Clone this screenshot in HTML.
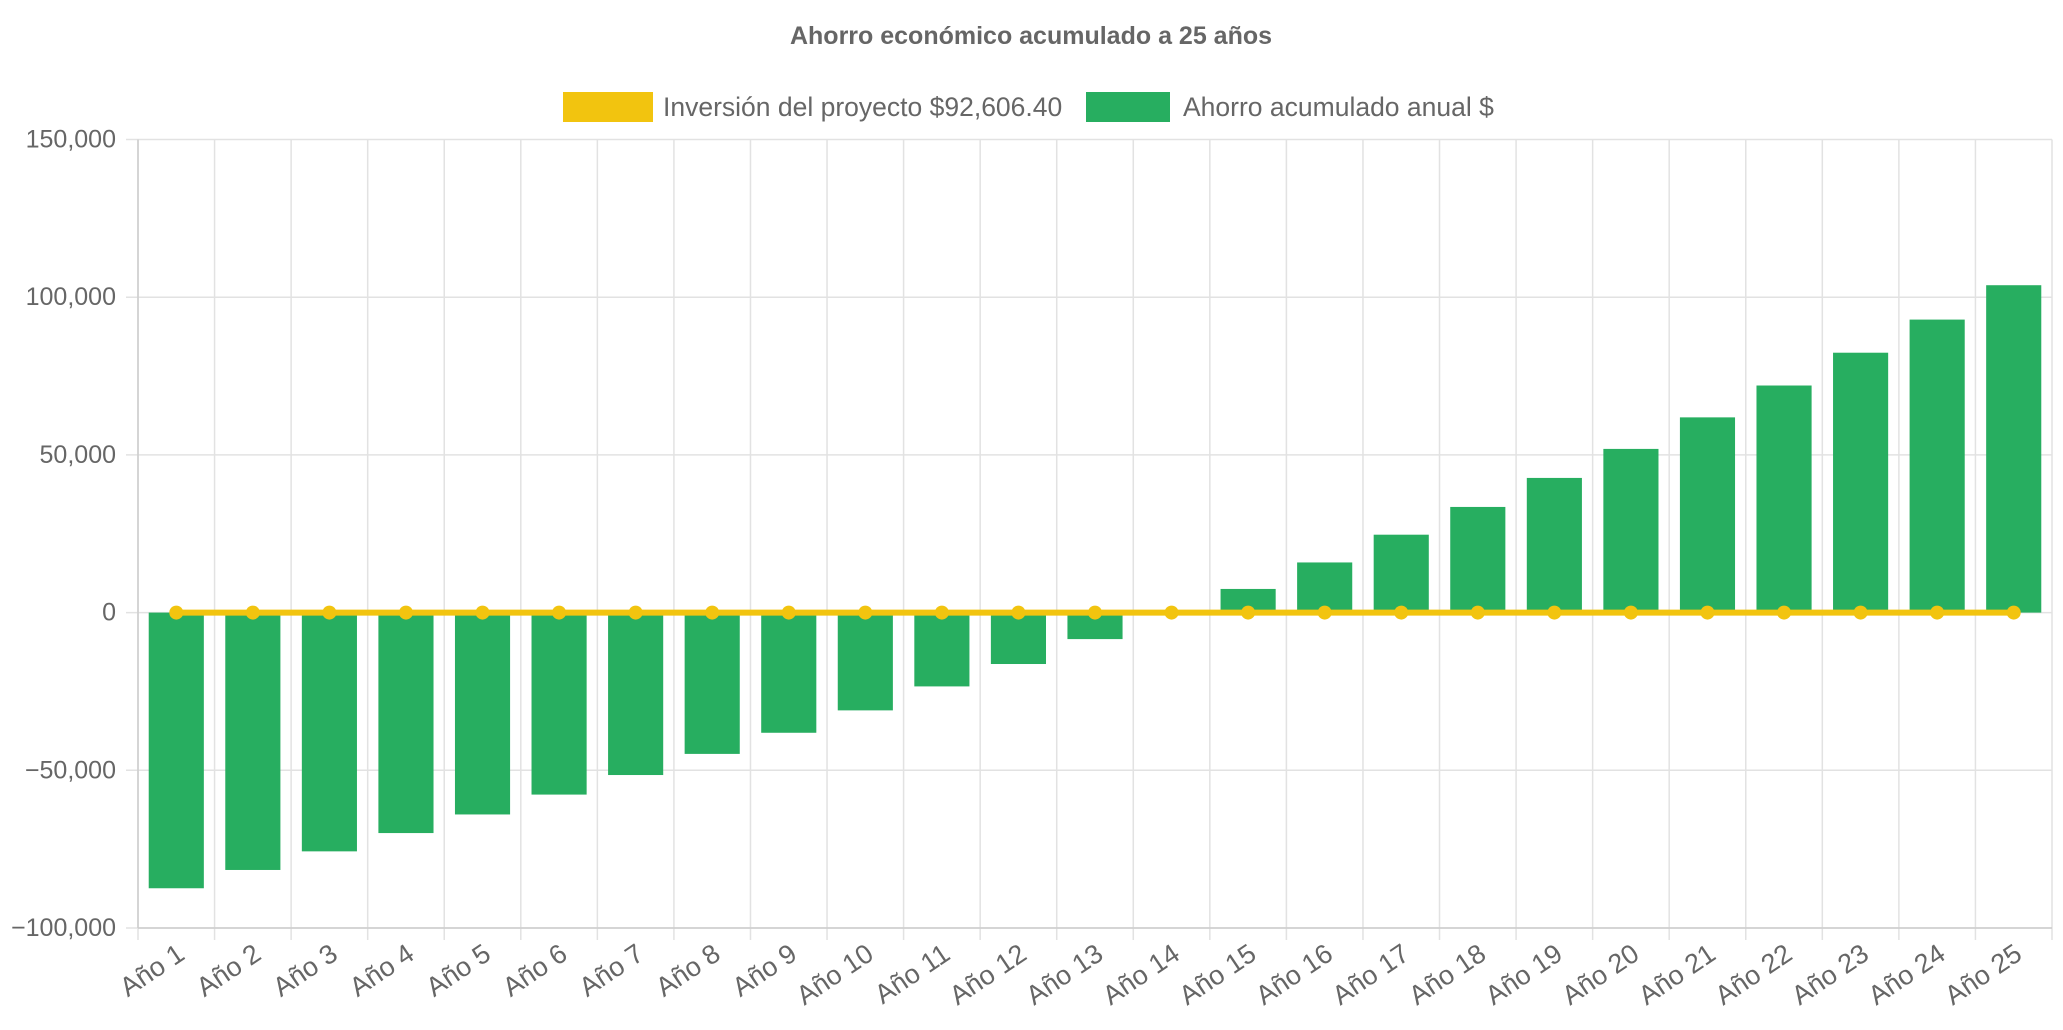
<!DOCTYPE html>
<html><head><meta charset="utf-8"><style>
html,body{margin:0;padding:0;background:#fff;}
svg{display:block;font-family:"Liberation Sans",sans-serif;}
</style></head><body>
<svg id="c" width="2063" height="1030">
<text x="1031" y="44" text-anchor="middle" font-size="25" font-weight="bold" fill="#666">Ahorro económico acumulado a 25 años</text>
<g>
<rect x="563" y="92" width="90" height="30" fill="#F2C40F"></rect>
<text x="663" y="116" font-size="26.5" fill="#666">Inversión del proyecto $92,606.40</text>
<rect x="1086" y="92" width="84" height="30" fill="#27AE60"></rect>
<text x="1183" y="116" font-size="26.5" fill="#666">Ahorro acumulado anual $</text>
</g>
<g id="grid"></g><g id="bars"></g><g id="line"></g><g id="axes"></g>
</svg>
<script>
const categories=["Año 1","Año 2","Año 3","Año 4","Año 5","Año 6","Año 7","Año 8","Año 9","Año 10","Año 11","Año 12","Año 13","Año 14","Año 15","Año 16","Año 17","Año 18","Año 19","Año 20","Año 21","Año 22","Año 23","Año 24","Año 25"];
const savings=[-87400,-81600,-75700,-69900,-64000,-57700,-51500,-44800,-38100,-31000,-23400,-16300,-8400,0,7500,15900,24700,33500,42700,51900,61900,72000,82400,92900,103800];
const investmentLine=[0,0,0,0,0,0,0,0,0,0,0,0,0,0,0,0,0,0,0,0,0,0,0,0,0];
const yTicks=[150000,100000,50000,0,-50000,-100000];
const yTickLabels=["150,000","100,000","50,000","0","−50,000","−100,000"];
const NS="http://www.w3.org/2000/svg";
const L=138,R=2052,T=139.5,B=928,yMin=-100000,yMax=150000;
const bw=(R-L)/categories.length;
function y(v){return B-(v-yMin)/(yMax-yMin)*(B-T);}
function x(i){return L+bw*(i+0.5);}
function mk(t,a,p){const e=document.createElementNS(NS,t);for(const k in a)e.setAttribute(k,a[k]);p.appendChild(e);return e;}
const grid=document.getElementById('grid'),bars=document.getElementById('bars'),line=document.getElementById('line'),axes=document.getElementById('axes');
yTicks.forEach((v,i)=>{
 const g=mk('line',{x1:L-12,x2:R,y1:y(v),y2:y(v),stroke:'#e2e2e2','stroke-width':1.5},grid);
 
 
 const t=mk('text',{x:116,y:y(v)+8,'text-anchor':'end','font-size':25,fill:'#666'},axes);
 t.textContent=yTickLabels[i];
 
 
});
for(let i=0;i<=categories.length;i++){
 const xx=L+bw*i;
 const g=mk('line',{x1:xx,x2:xx,y1:T,y2:B+12,stroke:'#e2e2e2','stroke-width':1.5},grid);
 
 
}
mk('line',{x1:L,x2:L,y1:T,y2:B,stroke:'#ccc','stroke-width':1.5},axes);
mk('line',{x1:L,x2:R,y1:B,y2:B,stroke:'#ccc','stroke-width':1.5},axes);
const barW=bw*0.72;
savings.forEach((v,i)=>{
 const y0=y(0),y1=y(v);
 const r=mk('rect',{x:x(i)-barW/2,y:Math.min(y0,y1),width:barW,height:Math.abs(y1-y0),fill:'#27AE60'},bars);
 
 
});
const pts=investmentLine.map((v,i)=>x(i)+','+y(v)).join(' ');
const pl=mk('polyline',{points:pts,fill:'none',stroke:'#F2C40F','stroke-width':6},line);


investmentLine.forEach((v,i)=>{
 const c=mk('circle',{cx:x(i),cy:y(v),r:7,fill:'#F2C40F'},line);
 
 
});
categories.forEach((c,i)=>{
 const xx=x(i)+10,yy=B+30;
 const t=mk('text',{x:xx,y:yy,'text-anchor':'end','font-size':27,fill:'#666',transform:'rotate(-34 '+xx+' '+yy+')'},axes);
 t.textContent=c;
 
 
});
</script>
</body></html>
